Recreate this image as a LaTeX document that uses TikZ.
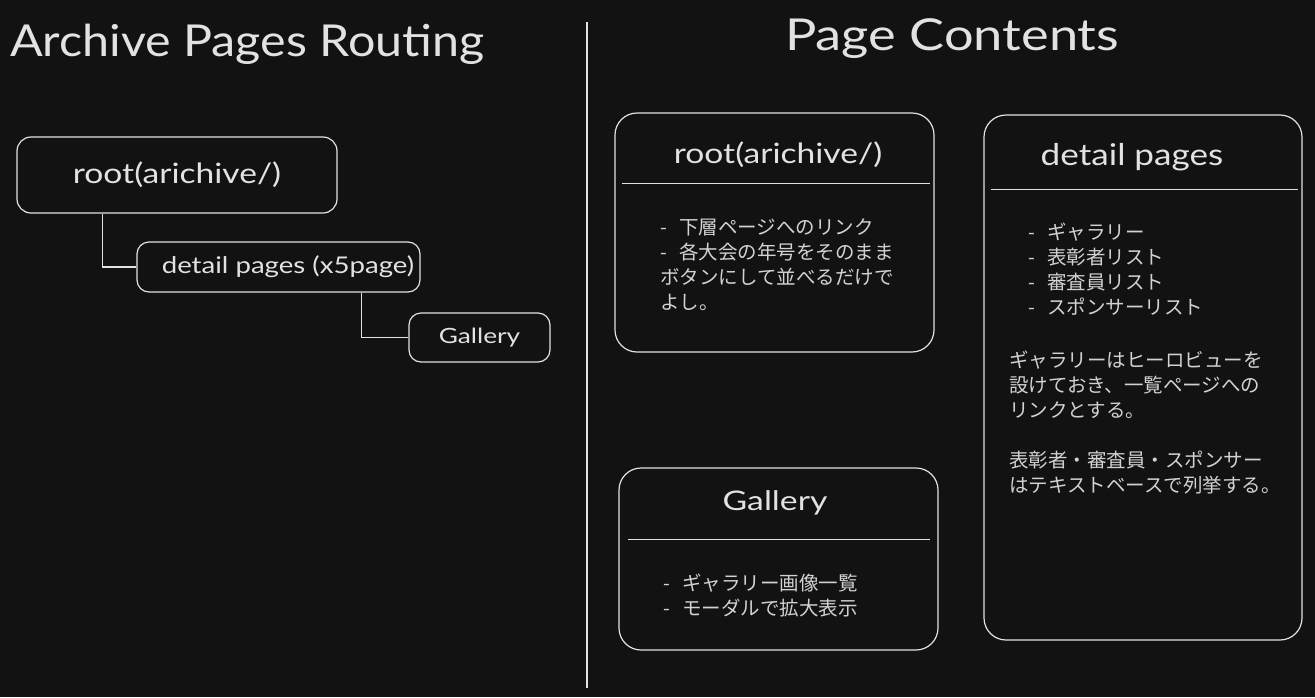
\documentclass[tikz,border=0pt]{standalone}
\usepackage{graphicx}
\usepackage{fontspec}
\newfontfamily\hand{Lato}
\newfontfamily\jp{Noto Sans CJK JP}
\usetikzlibrary{calc}
\definecolor{bg}{HTML}{121212}
\definecolor{fg}{HTML}{E2E2E2}
\definecolor{tx}{HTML}{D2D2D2}
\newcommand{\dsh}{\makebox[19pt][l]{-}}
\newcommand{\hs}[2]{\scalebox{#1}[1]{#2}}
\begin{document}
\begin{tikzpicture}[x=1pt,y=-1pt,
  sbox/.style={draw=fg, line width=1.2pt, rounded corners=#1, inner sep=0pt, text=fg},
  sbox/.default=13pt,
  conn/.style={draw=fg, line width=1.1pt},
  divider/.style={draw=fg, line width=0.6pt, double=bg, double distance=0.9pt},
  ttl/.style={text=fg, inner sep=0pt, font=\hand\fontsize{44}{48}\selectfont},
  boxttl/.style={text=fg, inner sep=0pt, font=\hand\fontsize{#1}{#1}\selectfont},
  body/.style={text=tx, inner sep=0pt, align=left, anchor=north west,
    font=\jp\fontsize{19.5}{25}\selectfont}]
\fill[bg] (0,0) rectangle (1315,697);
\useasboundingbox (0,0) rectangle (1315,697);

% titles
\node[ttl, anchor=base west] (t1) at (10,56) {\hs{1.1}{Archive Pages Routing}};
\node[ttl, anchor=base west] (t2) at (785,50) {\hs{1.19}{Page Contents}};
\draw[fg, line width=1.1pt] (587,22) -- (587,688);

% left routing tree
\node[sbox=14pt, minimum width=320pt, minimum height=76pt,
      font=\hand\fontsize{28}{30}\selectfont] (lroot) at (177,175) {\hs{1.2}{root(arichive/)}};
\node[sbox=12pt, minimum width=283pt, minimum height=50pt,
      font=\hand\fontsize{23}{26}\selectfont] (ldetail) at (278.5,267) {\hspace{19pt}\hs{1.2}{detail pages (x5page)}};
\node[sbox=12pt, minimum width=141pt, minimum height=49pt,
      font=\hand\fontsize{21}{22}\selectfont] (lgal) at (479.5,337.5) {\hs{1.25}{Gallery}};
\draw[conn] ([xshift=86pt]lroot.south west) |- (ldetail.west);
\draw[conn] ([xshift=225pt]ldetail.south west) |- (lgal.west);

% right: root box
\node[sbox=22pt, minimum width=319pt, minimum height=239pt] (rroot) at (774.5,232.5) {};
\node[boxttl=28] (rrootT) at (778,155) {\hs{1.2}{root(arichive/)}};
\draw[divider] (622,184) -- (930,184);
\node[body] (rrootB) at (660,219) {\dsh 下層ページへのリンク\\\dsh 各大会の年号をそのまま\\ボタンにして並べるだけで\\よし。};

% right: detail box
\node[sbox=22pt, minimum width=318pt, minimum height=525pt] (rdet) at (1143,377.5) {};
\node[boxttl=30] (rdetT) at (1132,157) {\hs{1.17}{detail pages}};
\draw[divider] (991,190) -- (1298,190);
\node[body] (rdetL) at (1028,223) {\dsh ギャラリー\\\dsh 表彰者リスト\\\dsh 審査員リスト\\\dsh スポンサーリスト};
\node[body] (rdetP) at (1009,351) {ギャラリーはヒーロビューを\\設けておき、一覧ページへの\\リンクとする。\\[25pt]表彰者・審査員・スポンサー\\はテキストベースで列挙する。};

% right: gallery box
\node[sbox=22pt, minimum width=319pt, minimum height=182pt] (rgal) at (778.5,559) {};
\node[boxttl=27] (rgalT) at (775,503) {\hs{1.25}{Gallery}};
\draw[divider] (628,540) -- (930,540);
\node[body] (rgalB) at (663,574) {\dsh ギャラリー画像一覧\\\dsh モーダルで拡大表示};
\end{tikzpicture}
\end{document}
